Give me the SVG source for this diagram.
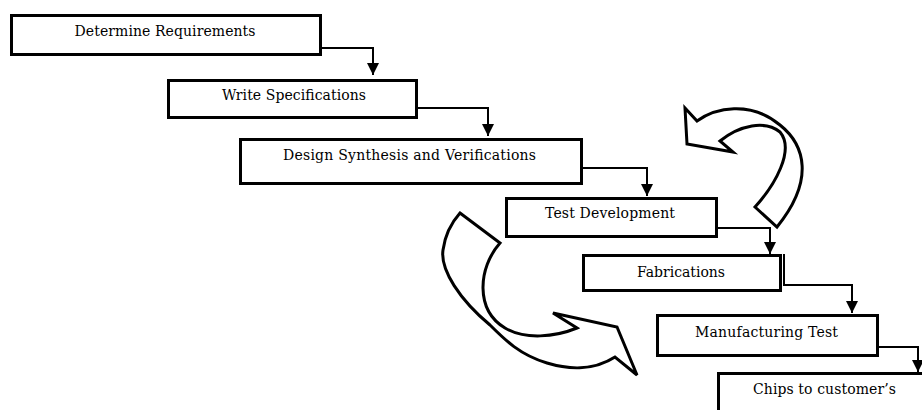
<svg xmlns="http://www.w3.org/2000/svg" width="922" height="410" viewBox="0 0 922 410">
<style>
.box{fill:#fff;stroke:#000;stroke-width:3}
.lbl{font-family:"DejaVu Serif","Liberation Serif",serif;font-size:14px;fill:#000;text-anchor:middle}
.con{fill:none;stroke:#000;stroke-width:2;marker-end:url(#ah)}
.curve{fill:#fff;stroke:#000;stroke-width:3;stroke-linejoin:miter}
</style>
<defs>
<marker id="ah" markerUnits="userSpaceOnUse" markerWidth="12" markerHeight="12" refX="12" refY="6" orient="auto">
<path d="M0,0 L12,6 L0,12 Z" fill="#000"/>
</marker>
</defs>
<rect width="922" height="410" fill="#fff"/>
<g id="cycle-arrows">
<path class="curve" d="M460,213 L500,243 C478,268 475,310 505,328 C525,340 555,337 577,328 L553,313 L617,327 L637,375 L615,357 C595,370 570,370 547,363 C520,355 505,340 490,325 C460,300 440,270 443,250 C445,235 452,222 460,213 Z"/>
<path class="curve" d="M685,108 L697,121 C715,108 750,100 780,125 C805,145 815,180 777,227 L755,207 C775,185 795,150 780,132 C765,120 740,125 720,141 L733,152 L687,144 Z"/>
</g>
<g id="connectors">
<path class="con" d="M322,48 H373 V75"/>
<path class="con" d="M418,108 H488 V136"/>
<path class="con" d="M583,168 H647 V196"/>
<path class="con" d="M718,228 H770 V254"/>
<path class="con" d="M784,254 V285 H852 V313"/>
<path class="con" d="M879,347 H918 V372"/>
</g>
<g id="n1"><rect class="box" x="11.5" y="15.5" width="309" height="39"/><text class="lbl" x="165" y="36" textLength="181">Determine Requirements</text></g>
<g id="n2"><rect class="box" x="168.5" y="80.5" width="248" height="37"/><text class="lbl" x="294" y="100" textLength="144">Write Specifications</text></g>
<g id="n3"><rect class="box" x="240.5" y="139.5" width="341" height="44"/><text class="lbl" x="409.5" y="160" textLength="253">Design Synthesis and Verifications</text></g>
<g id="n4"><rect class="box" x="506.5" y="198.5" width="210" height="38"/><text class="lbl" x="610" y="218" textLength="130">Test Development</text></g>
<g id="n5"><rect class="box" x="583.5" y="255.5" width="197" height="35"/><text class="lbl" x="681" y="277" textLength="88">Fabrications</text></g>
<g id="n6"><rect class="box" x="657.5" y="315.5" width="220" height="40"/><text class="lbl" x="766.5" y="337" textLength="143">Manufacturing Test</text></g>
<g id="n7"><rect class="box" x="718.5" y="373.5" width="230" height="50"/><text class="lbl" x="824.5" y="394" textLength="143">Chips to customer’s</text></g>
</svg>
